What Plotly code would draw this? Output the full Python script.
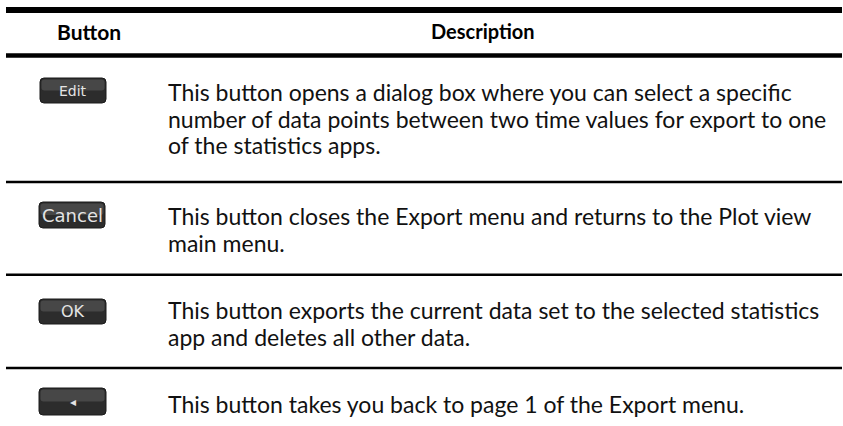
import plotly.graph_objects as go

# ---- data ----
headers = ["Button", "Description"]
buttons = ["Edit", "Cancel", "OK", "◂"]
descriptions = [
    ["This button opens a dialog box where you can select a specific",
     "number of data points between two time values for export to one",
     "of the statistics apps."],
    ["This button closes the Export menu and returns to the Plot view",
     "main menu."],
    ["This button exports the current data set to the selected statistics",
     "app and deletes all other data."],
    ["This button takes you back to page 1 of the Export menu."],
]

# ---- layout geometry (pixels) ----
W, H = 843, 426
X0, X1 = 6, 842
TOP_RULE = 10
HEAD_RULE = 55.5
ROW_RULES = [182, 274.7, 368]
ROW_FIRST_LINE = [92, 216, 310, 404]
LINE_STEP = 26.5
BTN_BOX = [(40, 78, 106, 103), (39, 202, 105, 228), (39, 299, 106, 324), (39, 388, 106, 415)]
BTN_FONT = [14, 18, 16, 12]
TEXT_X = 166
FONT = "Lato, 'Open Sans', sans-serif"


def rrect(x0, y0, x1, y1, r):
    return (f"M {x0+r},{y0} L {x1-r},{y0} Q {x1},{y0} {x1},{y0+r} "
            f"L {x1},{y1-r} Q {x1},{y1} {x1-r},{y1} L {x0+r},{y1} "
            f"Q {x0},{y1} {x0},{y1-r} L {x0},{y0+r} Q {x0},{y0} {x0+r},{y0} Z")


fig = go.Figure()
fig.add_trace(go.Scatter(x=[0, W], y=[0, H], mode="markers",
                         marker=dict(opacity=0), hoverinfo="skip", showlegend=False))

shapes = []
# rules
shapes.append(dict(type="line", x0=X0, x1=X1, y0=TOP_RULE, y1=TOP_RULE,
                   line=dict(color="black", width=6)))
shapes.append(dict(type="line", x0=X0, x1=X1, y0=HEAD_RULE, y1=HEAD_RULE,
                   line=dict(color="black", width=4.5)))
for yr in ROW_RULES:
    shapes.append(dict(type="line", x0=X0, x1=X1, y0=yr, y1=yr,
                       line=dict(color="black", width=2.5)))

annotations = []
# headers
annotations.append(dict(x=89, y=31, text=f"<b>{headers[0]}</b>", showarrow=False,
                        xanchor="center", yanchor="middle",
                        font=dict(family=FONT, size=21, color="black")))
annotations.append(dict(x=483, y=31, text=f"<b>{headers[1]}</b>", showarrow=False,
                        xanchor="center", yanchor="middle",
                        font=dict(family=FONT, size=20, color="black")))

# buttons
for (bx0, by0, bx1, by1), label, fs in zip(BTN_BOX, buttons, BTN_FONT):
    shapes.append(dict(type="path", path=rrect(bx0, by0, bx1, by1, 4),
                       fillcolor="#2c2c2c", line=dict(color="#1a1a1a", width=1)))
    mid = (by0 + by1) / 2
    shapes.append(dict(type="path", path=rrect(bx0 + 1.5, by0 + 1.5, bx1 - 1.5, mid, 3),
                       fillcolor="#474747", line=dict(width=0)))
    annotations.append(dict(x=(bx0 + bx1) / 2, y=mid, text=label, showarrow=False,
                            xanchor="center", yanchor="middle",
                            font=dict(family="DejaVu Sans, sans-serif", size=fs, color="#e4e4e4")))

# descriptions
for y_first, lines in zip(ROW_FIRST_LINE, descriptions):
    for i, line in enumerate(lines):
        annotations.append(dict(x=TEXT_X, y=y_first + i * LINE_STEP, text=line,
                                showarrow=False, xanchor="left", yanchor="middle",
                                font=dict(family=FONT, size=23, color="#111111")))

fig.update_layout(
    width=W, height=H,
    margin=dict(l=0, r=0, t=0, b=0),
    paper_bgcolor="white", plot_bgcolor="white",
    xaxis=dict(range=[0, W], visible=False, fixedrange=True),
    yaxis=dict(range=[H, 0], visible=False, fixedrange=True),
    shapes=shapes, annotations=annotations, showlegend=False,
)

fig.write_html("out.html", config={"displayModeBar": False},
               post_script="document.body.style.margin='0';document.body.style.overflow='hidden';")
